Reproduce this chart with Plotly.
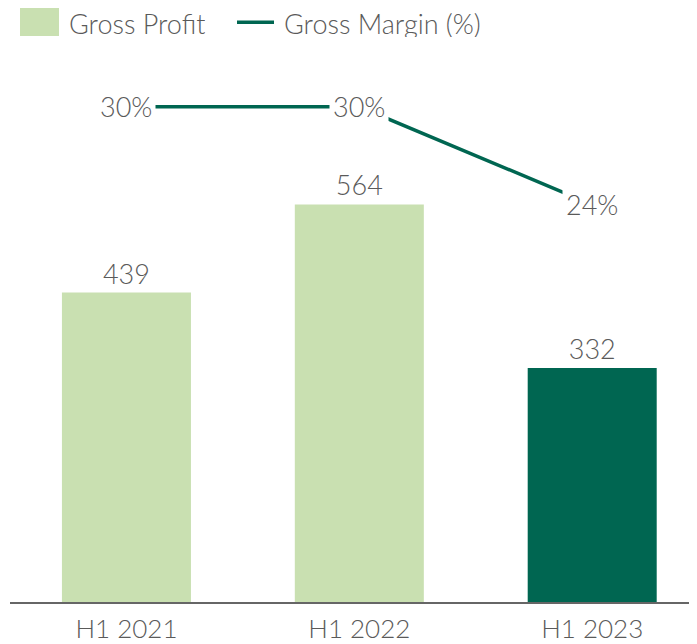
import plotly.graph_objects as go

# -----------------------------------------------------------------------------
# Data
# -----------------------------------------------------------------------------
periods = ["H1 2021", "H1 2022", "H1 2023"]
gross_profit = [439, 564, 332]
gross_margin = [0.30, 0.30, 0.24]
margin_labels = ["30%", "30%", "24%"]

LIGHT_GREEN = "#c9e0b1"
DARK_GREEN = "#006651"
TEXT_GREY = "#5a5a5a"
FONT = "Lato"
WEIGHT = 300

bar_colors = [LIGHT_GREEN, LIGHT_GREEN, DARK_GREEN]

# page body has an 8px margin, so the figure is shrunk to fit the window
W, H = 689, 636
L, T, B = 2, 52, 40
PW, PH = W - L, H - T - B


def px_x(x):
    # window pixel -> paper fraction
    return (x - 8 - L) / PW


def px_y(y):
    return (8 + T + PH - y) / PH


def label_font(size=27):
    return dict(size=size, color=TEXT_GREY, family=FONT, weight=WEIGHT)


fig = go.Figure()

fig.add_trace(go.Bar(
    x=periods,
    y=gross_profit,
    marker=dict(color=bar_colors, line=dict(width=0)),
    text=[str(v) for v in gross_profit],
    textposition="outside",
    textfont=label_font(),
    cliponaxis=False,
    width=0.554,
    showlegend=False,
))

fig.add_trace(go.Scatter(
    x=periods,
    y=gross_margin,
    yaxis="y2",
    mode="lines",
    line=dict(color=DARK_GREEN, width=3.5),
    showlegend=False,
))

# margin labels sit on the line, white box hides the line behind the text
for p, v, lab in zip(periods, gross_margin, margin_labels):
    fig.add_annotation(
        x=p, y=v, yref="y2", text=lab, showarrow=False,
        font=label_font(),
        bgcolor="white", borderpad=3,
    )

# hand-made legend at top left
fig.add_shape(type="rect", xref="paper", yref="paper",
              x0=px_x(20), x1=px_x(59), y0=px_y(36), y1=px_y(7),
              fillcolor=LIGHT_GREEN, line=dict(width=0))
fig.add_annotation(xref="paper", yref="paper", x=px_x(68), y=px_y(23),
                   xanchor="left", yanchor="middle", showarrow=False,
                   height=28, borderpad=0,
                   text="Gross Profit", font=label_font())
fig.add_shape(type="line", xref="paper", yref="paper",
              x0=px_x(237), x1=px_x(274), y0=px_y(22), y1=px_y(22),
              line=dict(color=DARK_GREEN, width=3.5))
fig.add_annotation(xref="paper", yref="paper", x=px_x(283), y=px_y(23),
                   xanchor="left", yanchor="middle", showarrow=False,
                   height=28, borderpad=0,
                   text="Gross Margin (%)", font=label_font())

fig.update_layout(
    width=W,
    height=H,
    margin=dict(l=L, r=0, t=T, b=B),
    plot_bgcolor="white",
    paper_bgcolor="white",
    font=dict(family=FONT, color=TEXT_GREY, weight=WEIGHT),
    showlegend=False,
    xaxis=dict(
        range=[-0.5, 2.45],
        showgrid=False,
        showline=True,
        linecolor="#666666",
        linewidth=2,
        ticks="",
        ticklabelstandoff=3,
        tickfont=label_font(26),
    ),
    yaxis=dict(range=[0, 769], visible=False, showgrid=False, zeroline=False),
    yaxis2=dict(range=[-0.0039, 0.3287], overlaying="y", visible=False,
                showgrid=False, zeroline=False),
)

fig.write_html("out.html")
